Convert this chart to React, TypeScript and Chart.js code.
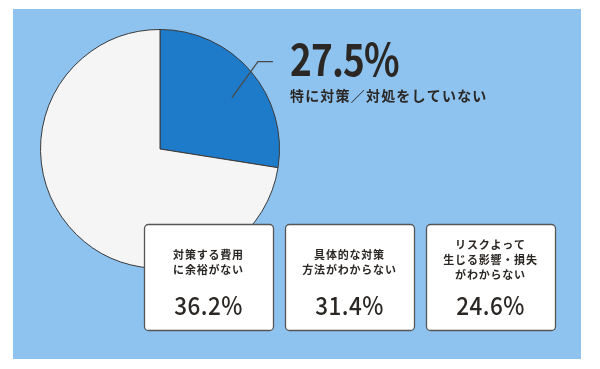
import React, { useEffect, useRef } from "react";
import { Chart, registerables } from "chart.js";

Chart.register(...registerables);

const sliceLabels = ["特に対策／対処をしていない", "その他"];
const sliceValues = [27.5, 72.5];
const sliceColors = ["#1E7BCA", "#F5F5F5"];

const boxLabels = [
  ["対策する費用", "に余裕がない"],
  ["具体的な対策", "方法がわからない"],
  ["リスクよって", "生じる影響・損失", "がわからない"],
];
const boxValues = [36.2, 31.4, 24.6];

const JP = '"Noto Sans CJK JP", "Noto Sans", sans-serif';
const TEXT = "#2B2724";

const decorPlugin = {
  id: "decor",
  beforeDraw(chart: any) {
    const ctx = chart.ctx;
    ctx.save();
    ctx.fillStyle = "#8EC3F0";
    ctx.fillRect(13, 9, 568, 350);
    ctx.restore();
  },
  afterDraw(chart: any) {
    const ctx = chart.ctx;
    const meta = chart.getDatasetMeta(0);
    const arc = meta.data[0];
    const { x, y, startAngle, endAngle, outerRadius } = arc.getProps(
      ["x", "y", "startAngle", "endAngle", "outerRadius"],
      true
    );
    const a = startAngle + 0.55 * (endAngle - startAngle);
    const ax = x + Math.cos(a) * outerRadius * 0.74;
    const ay = y + Math.sin(a) * outerRadius * 0.74;
    const ex = ax + 26;
    const ey = ay - 36;
    const hx = ex + 15;
    ctx.save();
    ctx.strokeStyle = "#4a4a4a";
    ctx.lineWidth = 1.3;
    ctx.beginPath();
    ctx.moveTo(ax, ay);
    ctx.lineTo(ex, ey);
    ctx.lineTo(hx, ey);
    ctx.stroke();

    // main label
    const tx = hx + 17;
    ctx.fillStyle = TEXT;
    ctx.textAlign = "left";
    ctx.textBaseline = "alphabetic";
    ctx.font = `bold 44px ${JP}`;
    ctx.save();
    ctx.translate(tx, ey + 14);
    ctx.scale(0.84, 1);
    (ctx as any).letterSpacing = "-1px";
    ctx.fillText(`${sliceValues[0]}%`, 0, 0);
    ctx.restore();
    ctx.font = `bold 14px ${JP}`;
    (ctx as any).letterSpacing = "1.2px";
    ctx.textBaseline = "middle";
    ctx.fillText(sliceLabels[0], tx, ey + 34);

    // boxes
    const bw = 129;
    const bh = 106;
    const gap = 12;
    const bx0 = 144;
    const by = 224;
    boxValues.forEach((v, i) => {
      const bx = bx0 + i * (bw + gap);
      ctx.beginPath();
      (ctx as any).roundRect(bx + 0.5, by + 0.5, bw, bh, 4);
      ctx.fillStyle = "#FFFFFF";
      ctx.fill();
      ctx.strokeStyle = "#555555";
      ctx.lineWidth = 1.3;
      ctx.stroke();
      const cx = bx + bw / 2;
      const lines = boxLabels[i];
      const lh = 15;
      const centerY = lines.length === 3 ? 260 : 262.5;
      const startY = centerY - ((lines.length - 1) * lh) / 2;
      ctx.fillStyle = TEXT;
      ctx.textAlign = "center";
      ctx.textBaseline = "middle";
      ctx.font = `bold 11px ${JP}`;
      (ctx as any).letterSpacing = "0.8px";
      lines.forEach((t, j) => ctx.fillText(t, cx, startY + j * lh));
      ctx.save();
      ctx.translate(cx, 305);
      ctx.scale(0.9, 1);
      ctx.font = `500 25px ${JP}`;
      (ctx as any).letterSpacing = "0.5px";
      ctx.fillText(`${v.toFixed(1)}%`, 0, 0);
      ctx.restore();
    });
    ctx.restore();
  },
};

export default function App() {
  const ref = useRef<HTMLCanvasElement | null>(null);
  useEffect(() => {
    if (!ref.current) return;
    const chart = new Chart(ref.current, {
      type: "pie",
      data: {
        labels: sliceLabels,
        datasets: [
          {
            data: sliceValues,
            backgroundColor: sliceColors,
            borderColor: "#3a3a3a",
            borderWidth: 1,
          },
        ],
      },
      options: {
        animation: false,
        responsive: false,
        layout: { padding: { left: 40, top: 29, right: 320, bottom: 100 } },
        plugins: {
          legend: { display: false },
          tooltip: { enabled: false },
        },
      },
      plugins: [decorPlugin],
    });
    return () => chart.destroy();
  }, []);
  return (
    <div
      style={{
        position: "absolute",
        left: 0,
        top: 0,
        width: 600,
        height: 369,
        background: "#FFFFFF",
      }}
    >
      <canvas ref={ref} width={600} height={369} style={{ width: 600, height: 369 }} />
    </div>
  );
}
